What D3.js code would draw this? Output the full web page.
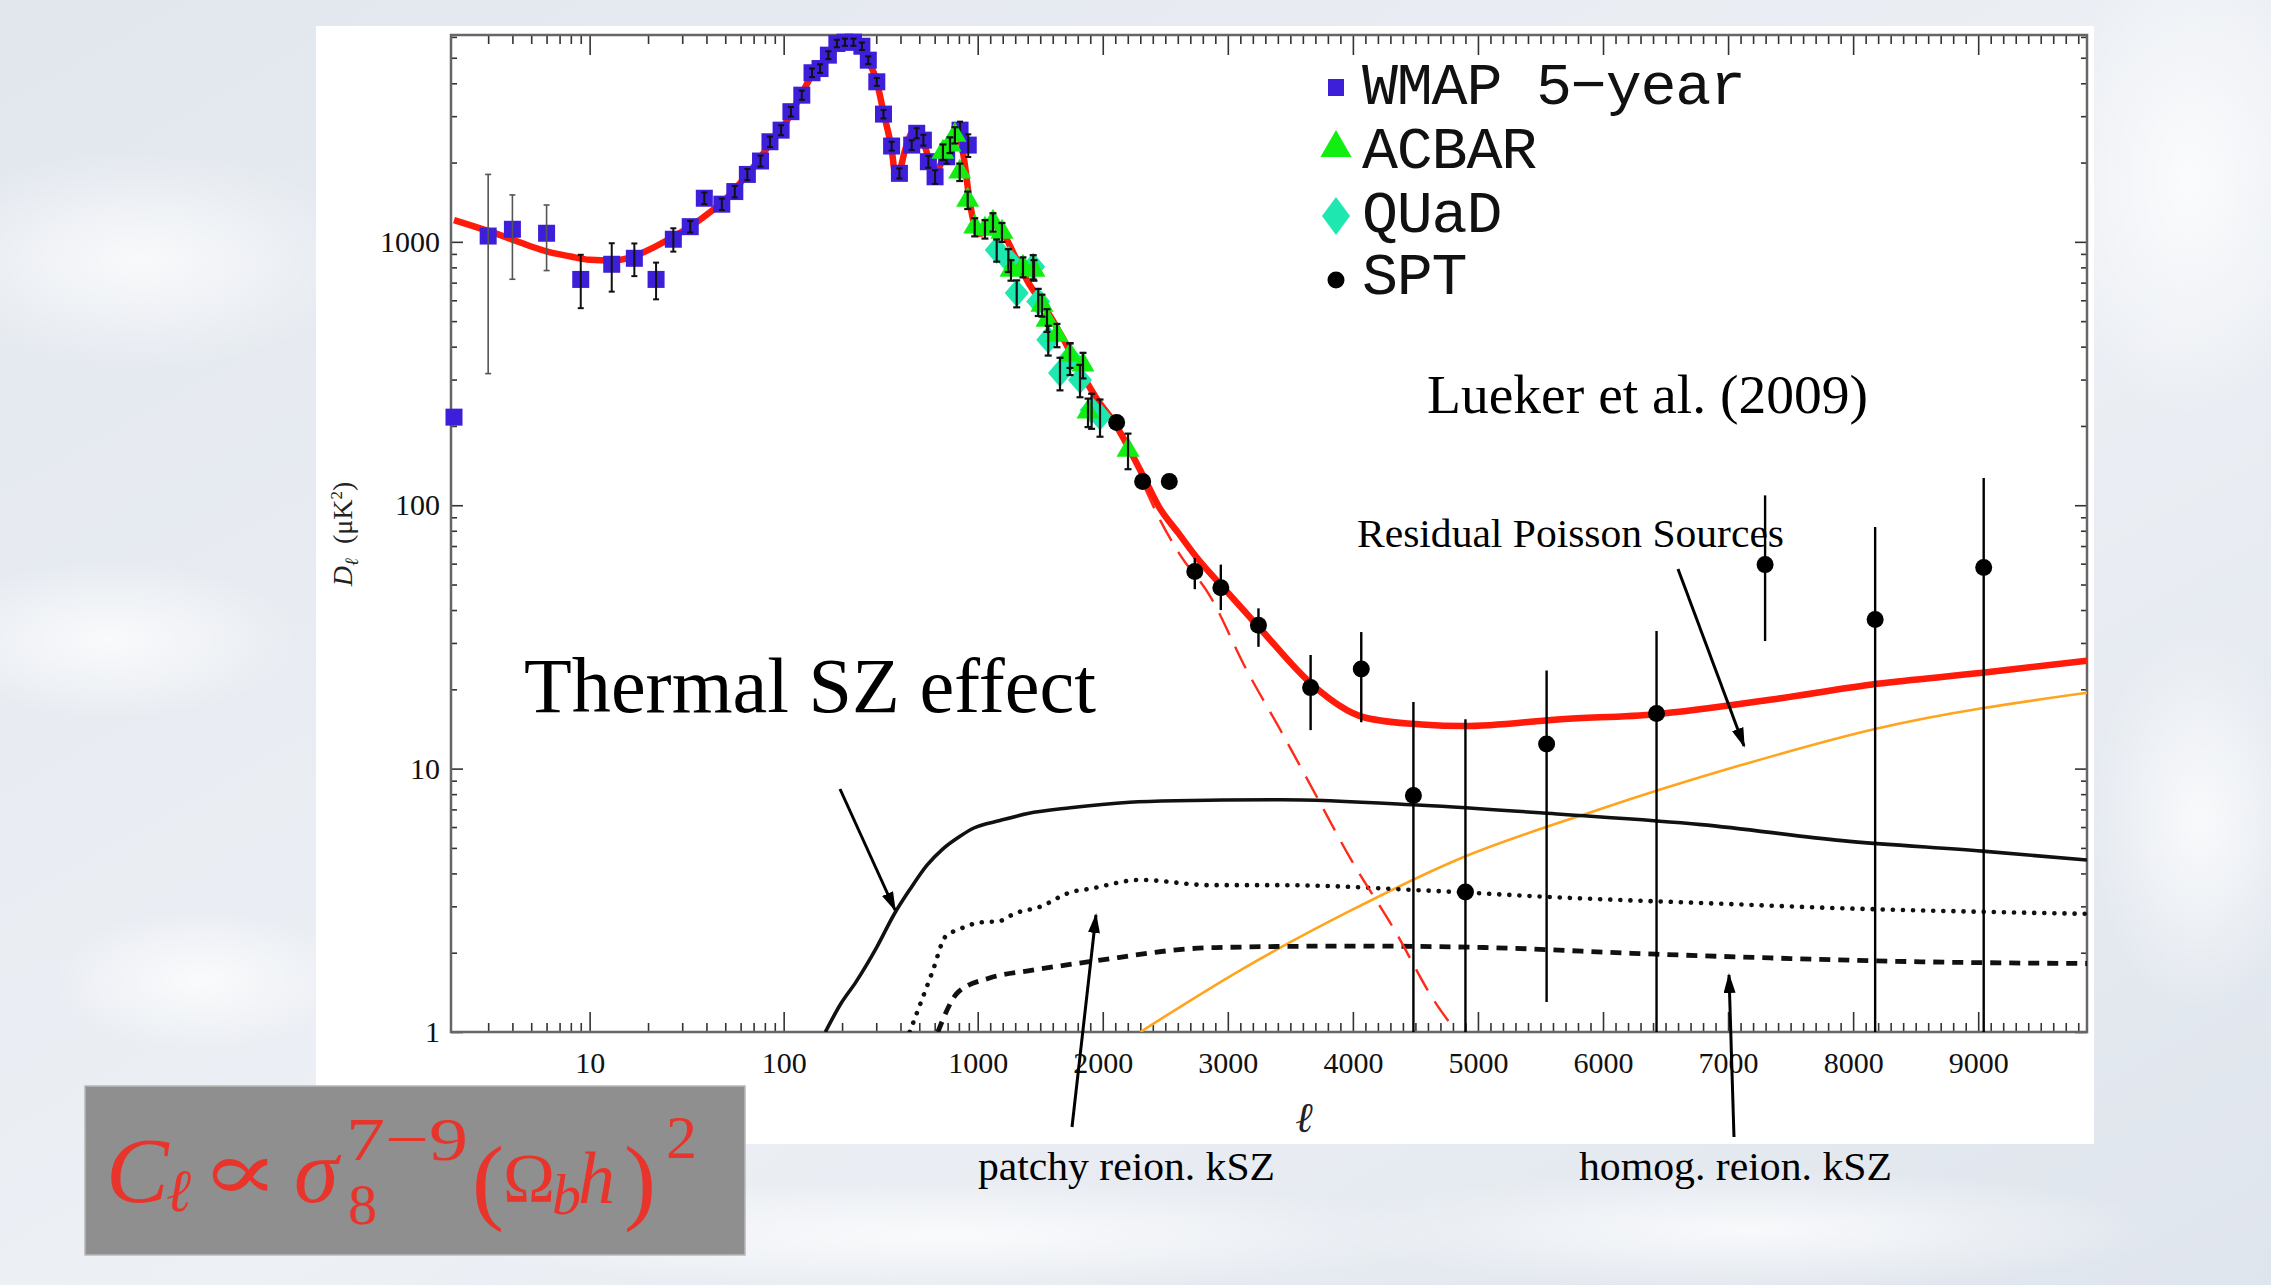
<!DOCTYPE html>
<html>
<head>
<meta charset="utf-8">
<script src="https://cdn.jsdelivr.net/npm/d3@7"></script>
<style>
  body { margin: 0; background: #e6ebf1; }
  svg { display: block; }
</style>
</head>
<body>
<svg id="chart" width="2271" height="1285"></svg>
<script>
// ---- data (multipole l, D_l in uK^2) ----
const wmapL  = [2, 3, 4, 6, 9, 13, 17, 22, 27, 33, 39, 48, 56, 65, 76, 85, 97, 109, 124, 140, 154, 170, 188, 207, 229, 253, 273, 302, 327, 360, 395, 457, 485, 525, 557, 603, 692, 811, 894];
const wmapD  = [216, 1052, 1116, 1078, 720, 822, 866, 720, 1023, 1142, 1464, 1390, 1552, 1803, 2027, 2399, 2655, 3120, 3605, 4385, 4550, 5115, 5665, 5730, 5730, 5530, 4895, 4052, 3055, 2311, 1820, 2330, 2583, 2433, 2015, 1766, 2104, 2655, 2330];
const wmapLo = [216, 316, 721, 778, 560, 647, 741, 605, 918, 1085, 1390, 1320, 1475, 1715, 1930, 2290, 2540, 2990, 3460, 4220, 4380, 4940, 5480, 5550, 5550, 5350, 4730, 3910, 2940, 2220, 1740, 2230, 2470, 2320, 1910, 1660, 1980, 2450, 2100];
const wmapHi = [216, 1803, 1507, 1380, 893, 988, 986, 834, 1126, 1200, 1540, 1460, 1630, 1890, 2125, 2510, 2770, 3250, 3750, 4550, 4720, 5290, 5850, 5910, 5910, 5710, 5060, 4190, 3170, 2400, 1900, 2430, 2700, 2550, 2120, 1870, 2230, 2860, 2560];

const acbarL   = [662, 720, 763, 808, 888, 965, 1058, 1122, 1194, 1266, 1362, 1450, 1514, 1554, 1634, 1738, 1842, 1882, 2202];
const acbarD   = [2193, 2333, 2544, 1842, 1442, 1139, 1119, 1189, 1089, 782, 803, 782, 575, 505, 443, 372, 341, 226, 162];
const acbarErr = [150, 160, 180, 140, 110, 90, 90, 95, 90, 70, 70, 70, 55, 50, 45, 40, 38, 28, 25];

const quadL   = [1152, 1245, 1312, 1444, 1484, 1564, 1658, 1738, 1818, 1911, 1978];
const quadD   = [931, 853, 639, 805, 593, 425, 318, 362, 299, 230, 217];
const quadErr = [90, 85, 75, 85, 70, 55, 45, 50, 42, 35, 35];

const sptL  = [2111, 2319, 2532, 2736, 2944, 3245, 3662, 4067, 4484, 4900, 5549, 6428, 7296, 8176, 9044];
const sptD  = [206, 123, 123, 56, 48.6, 35, 20.3, 23.9, 7.9, 3.4, 12.4, 16.2, 59.5, 36.8, 58];
const sptLo = [195, 115, 116, 48, 40, 29, 14, 15, 0.5, 0.5, 1.3, 0.5, 30.5, 0.5, 0.5];
const sptHi = [218, 131, 130, 63, 59.5, 40.6, 27, 33, 17.9, 15.4, 23.6, 33.3, 109, 82.7, 127];

// total model (red), CMB only (red dashed)
const totalL = [2, 3, 4, 5, 6, 8, 10, 13, 16, 20, 26, 34, 42, 50, 60, 70, 85, 100, 124, 140, 155, 170, 188, 207, 229, 253, 273, 302, 327, 360, 377, 395, 420, 466, 500, 540, 570, 603, 640, 690, 740, 782, 820, 860, 900, 950, 1000, 1060, 1127, 1197, 1289, 1405, 1521, 1671, 1810, 1949, 2100, 2331, 2447, 2608, 2748, 2973, 3254, 3682, 4101, 4553, 4890, 5664, 6427, 7352, 8192, 9034, 9870];
const totalD = [1210, 1100, 1020, 960, 920, 880, 855, 850, 870, 930, 1030, 1160, 1300, 1450, 1680, 1930, 2350, 2750, 3650, 4300, 4650, 5100, 5550, 5730, 5730, 5500, 4900, 4050, 3100, 2250, 1800, 1850, 2200, 2620, 2550, 2250, 1950, 1800, 1950, 2250, 2550, 2650, 2400, 1950, 1500, 1200, 1070, 1090, 1150, 1090, 900, 700, 580, 440, 330, 255, 203, 127, 99, 78, 63.6, 48.1, 34.2, 20.7, 15.6, 14.7, 14.5, 15.4, 16.1, 18.3, 21.0, 23.1, 25.7];
const cmbL = [2331, 2447, 2608, 2860, 3140, 3428, 3708, 3988, 4324, 4661, 4830];
const cmbD = [118, 90, 66, 45, 24.2, 13.8, 7.87, 4.49, 2.48, 1.29, 1.0];

// secondary anisotropies
const tszL = [164, 197, 236, 302, 371, 450, 548, 660, 800, 956, 1178, 1400, 1740, 2215, 2581, 3428, 4553, 5664, 6785, 7912, 9034, 9870];
const tszD = [1.0, 1.28, 1.55, 2.1, 2.8, 3.5, 4.3, 4.95, 5.5, 5.95, 6.35, 6.75, 7.1, 7.45, 7.55, 7.62, 7.26, 6.71, 6.13, 5.33, 4.86, 4.5];
const patchyL = [446, 587, 681, 800, 1007, 1178, 1290, 1500, 1740, 1900, 2300, 2860, 3428, 4553, 5664, 6785, 7912, 9034, 9870];
const patchyD = [1.0, 1.71, 2.30, 2.45, 2.60, 2.64, 2.81, 2.99, 3.39, 3.5, 3.78, 3.61, 3.61, 3.45, 3.24, 3.09, 2.95, 2.86, 2.81];
const homogL = [623, 795, 1089, 1415, 1900, 2860, 3988, 5110, 6230, 7352, 8475, 9870];
const homogD = [1.0, 1.42, 1.60, 1.71, 1.85, 2.09, 2.12, 2.09, 1.99, 1.91, 1.85, 1.82];
const poissonL = [2300, 3140, 3988, 4830, 5950, 7071, 8192, 9870];
const poissonD = [1.0, 1.76, 2.90, 4.5, 6.95, 10.2, 14.2, 19.4];

// axis ticks
const yMajor = [1, 10, 100, 1000];
const xLogMajor = [10, 100, 1000];
const xLinMajor = [2000, 3000, 4000, 5000, 6000, 7000, 8000, 9000];
const legendNames = ['WMAP 5\u2212year', 'ACBAR', 'QUaD', 'SPT'];

// ---- layout ----
const serif = "'Liberation Serif', 'Times New Roman', serif";
const mono = "'Liberation Mono', 'DejaVu Sans Mono', monospace";
const frame = { left: 451, right: 2087, top: 35, bottom: 1032 };

const svg = d3.select('#chart');
const defs = svg.append('defs');

// piecewise x: log below l=1000, linear above
const xLog = d3.scaleLog().domain([1.93, 1000]).range([frame.left, 977.7]);
const xLin = d3.scaleLinear().domain([1000, 9870]).range([977.7, frame.right]);
const x = l => l <= 1000 ? xLog(l) : xLin(l);
const y = d3.scaleLog().domain([1, 6100]).range([frame.bottom, frame.top]).clamp(true);

// ---- background ----
const bg = defs.append('linearGradient').attr('id', 'bg')
    .attr('x1', 0).attr('y1', 0).attr('x2', 1).attr('y2', 1);
bg.append('stop').attr('offset', '0%').attr('stop-color', '#e2e7ee');
bg.append('stop').attr('offset', '55%').attr('stop-color', '#edf0f5');
bg.append('stop').attr('offset', '100%').attr('stop-color', '#dfe5ed');
svg.append('rect').attr('width', 2271).attr('height', 1285).attr('fill', 'url(#bg)');

const cloud = defs.append('radialGradient').attr('id', 'cloud');
cloud.append('stop').attr('offset', '0%').attr('stop-color', '#ffffff').attr('stop-opacity', 0.75);
cloud.append('stop').attr('offset', '100%').attr('stop-color', '#ffffff').attr('stop-opacity', 0);
[[140, 260, 230, 110], [110, 640, 190, 80], [2190, 180, 140, 240], [2200, 820, 110, 190],
 [950, 1235, 520, 55], [1750, 1230, 420, 60], [200, 980, 150, 70]].forEach(c => {
    svg.append('ellipse').attr('cx', c[0]).attr('cy', c[1]).attr('rx', c[2]).attr('ry', c[3])
        .attr('fill', 'url(#cloud)');
});

// white figure panel
svg.append('rect').attr('x', 316).attr('y', 26).attr('width', 1778).attr('height', 1118).attr('fill', '#ffffff');

// ---- axes ----
var _axis = (axis, tx, ty) => {
    let g = svg.append('g').attr('transform', 'translate(' + tx + ',' + ty + ')').call(axis.tickSizeOuter(0));
    g.select('.domain').remove();
    g.selectAll('.tick line').attr('stroke', '#333').attr('stroke-width', 1.6);
    g.attr('font-family', serif).attr('font-size', 30);
    g.selectAll('.tick text').attr('fill', '#111');
    return g;
};

const xLogMinor = [3, 4, 5, 6, 7, 8, 9, 20, 30, 40, 50, 60, 70, 80, 90, 200, 300, 400, 500, 600, 700, 800, 900];
const xLinMinor = d3.range(1100, 9870, 100).filter(v => v % 1000 !== 0);
const yMinor = [];
[1, 10, 100, 1000].forEach(d => [2, 3, 4, 5, 6, 7, 8, 9].forEach(m => { if (d * m < 6100) yMinor.push(d * m); }));

// bottom
_axis(d3.axisBottom(xLog).tickValues(xLogMajor).tickFormat(d3.format('d')).tickSize(-20).tickPadding(20), 0, frame.bottom);
_axis(d3.axisBottom(xLin).tickValues(xLinMajor).tickFormat(d3.format('d')).tickSize(-20).tickPadding(20), 0, frame.bottom);
_axis(d3.axisBottom(xLog).tickValues(xLogMinor).tickFormat('').tickSize(-9), 0, frame.bottom);
_axis(d3.axisBottom(xLin).tickValues(xLinMinor).tickFormat('').tickSize(-9), 0, frame.bottom);
// top
_axis(d3.axisTop(xLog).tickValues(xLogMajor).tickFormat('').tickSize(-20), 0, frame.top);
_axis(d3.axisTop(xLin).tickValues(xLinMajor).tickFormat('').tickSize(-20), 0, frame.top);
_axis(d3.axisTop(xLog).tickValues(xLogMinor).tickFormat('').tickSize(-9), 0, frame.top);
_axis(d3.axisTop(xLin).tickValues(xLinMinor).tickFormat('').tickSize(-9), 0, frame.top);
// left / right
_axis(d3.axisLeft(y).tickValues(yMajor).tickFormat(d3.format('d')).tickSize(-12).tickPadding(11), frame.left, 0);
_axis(d3.axisLeft(y).tickValues(yMinor).tickFormat('').tickSize(-6), frame.left, 0);
_axis(d3.axisRight(y).tickValues(yMajor).tickFormat('').tickSize(-12), frame.right, 0);
_axis(d3.axisRight(y).tickValues(yMinor).tickFormat('').tickSize(-6), frame.right, 0);

svg.append('rect')
    .attr('x', frame.left).attr('y', frame.top)
    .attr('width', frame.right - frame.left).attr('height', frame.bottom - frame.top)
    .attr('fill', 'none').attr('stroke', '#666').attr('stroke-width', 2.5);

// axis titles
const yTitle = svg.append('text').attr('transform', 'translate(352,534) rotate(-90)')
    .attr('text-anchor', 'middle').attr('font-family', serif).attr('font-size', 28).attr('fill', '#222');
yTitle.append('tspan').attr('font-style', 'italic').text('D');
yTitle.append('tspan').attr('font-style', 'italic').attr('font-size', 19).attr('dy', 6).text('\u2113');
yTitle.append('tspan').attr('dy', -6).text('\u2002(\u03bcK');
yTitle.append('tspan').attr('font-size', 17).attr('dy', -10).text('2');
yTitle.append('tspan').attr('dy', 10).text(')');

svg.append('text').attr('x', 1304).attr('y', 1132).attr('text-anchor', 'middle')
    .attr('font-family', serif).attr('font-style', 'italic').attr('font-size', 42).attr('fill', '#222')
    .text('\u2113');

// ---- model curves ----
defs.append('clipPath').attr('id', 'plotClip').append('rect')
    .attr('x', frame.left).attr('y', frame.top)
    .attr('width', frame.right - frame.left).attr('height', frame.bottom - frame.top);
const curves = svg.append('g').attr('clip-path', 'url(#plotClip)');
const line = d3.line().x(d => x(d[0])).y(d => y(d[1])).curve(d3.curveMonotoneX);

var _curve = (ls, ds, stroke, width, dash, cap) => {
    curves.append('path').datum(d3.zip(ls, ds))
        .attr('d', line).attr('fill', 'none')
        .attr('stroke', stroke).attr('stroke-width', width)
        .attr('stroke-dasharray', dash || null)
        .attr('stroke-linecap', cap || 'butt')
        .attr('stroke-linejoin', 'round');
};
_curve(poissonL, poissonD, '#ffa41c', 2.6);
_curve(tszL, tszD, '#111', 3.6);
_curve(patchyL, patchyD, '#111', 4.6, '0.1,10', 'round');
_curve(homogL, homogD, '#111', 4.8, '11,8');
_curve(cmbL, cmbD, '#ff2a1a', 2.4, '24,13');
_curve(totalL, totalD, '#ff1a0a', 6.5);

// ---- data points ----
const pts = svg.append('g');
var _errbar = (l, lo, hi, cap, color, width) => {
    let g = pts.append('g').attr('stroke', color).attr('stroke-width', width);
    g.append('line').attr('x1', x(l)).attr('x2', x(l)).attr('y1', y(lo)).attr('y2', y(hi));
    if (cap) {
        g.append('line').attr('x1', x(l) - cap).attr('x2', x(l) + cap).attr('y1', y(lo)).attr('y2', y(lo));
        g.append('line').attr('x1', x(l) - cap).attr('x2', x(l) + cap).attr('y1', y(hi)).attr('y2', y(hi));
    }
};

// WMAP squares
const sq = 17;
pts.selectAll('rect.wmap').data(d3.range(wmapL.length)).enter().append('rect')
    .attr('class', 'wmap')
    .attr('x', i => x(wmapL[i]) - sq / 2).attr('y', i => y(wmapD[i]) - sq / 2)
    .attr('width', sq).attr('height', sq).attr('fill', '#3d1fd9');
wmapL.forEach((l, i) => {
    if (wmapHi[i] > wmapLo[i]) _errbar(l, wmapLo[i], wmapHi[i], 3, i < 4 ? '#555' : '#111', i < 4 ? 1.6 : 2);
});

// QUaD diamonds
const diamond = (cx, cy, w, h) => 'M' + cx + ',' + (cy - h) + 'L' + (cx + w) + ',' + cy + 'L' + cx + ',' + (cy + h) + 'L' + (cx - w) + ',' + cy + 'Z';
quadL.forEach((l, i) => {
    pts.append('path').attr('d', diamond(x(l), y(quadD[i]), 12, 14)).attr('fill', '#1ee8b0');
});
// ACBAR triangles
const tri = d3.symbol().type(d3.symbolTriangle).size(230);
acbarL.forEach((l, i) => {
    pts.append('path').attr('d', tri).attr('transform', 'translate(' + x(l) + ',' + y(acbarD[i]) + ')').attr('fill', '#12ee12');
});
quadL.forEach((l, i) => _errbar(l, quadD[i] - quadErr[i], quadD[i] + quadErr[i], 3.5, '#111', 2.2));
acbarL.forEach((l, i) => _errbar(l, acbarD[i] - acbarErr[i], acbarD[i] + acbarErr[i], 3.5, '#111', 2.2));

// SPT
sptL.forEach((l, i) => _errbar(l, sptLo[i], sptHi[i], 0, '#000', 2.4));
pts.selectAll('circle.spt').data(d3.range(sptL.length)).enter().append('circle')
    .attr('class', 'spt')
    .attr('cx', i => x(sptL[i])).attr('cy', i => y(sptD[i])).attr('r', 8.5).attr('fill', '#000');

// ---- legend ----
const legend = svg.append('g').attr('font-family', mono).attr('font-size', 60).attr('fill', '#111');
const legRow = [104, 168, 232, 294];
legend.append('rect').attr('x', 1328).attr('y', legRow[0] - 25).attr('width', 16).attr('height', 17).attr('fill', '#3d1fd9');
legend.append('path').attr('d', d3.symbol().type(d3.symbolTriangle).size(420)).attr('transform', 'translate(1336,' + (legRow[1] - 20) + ')').attr('fill', '#12ee12');
legend.append('path').attr('d', diamond(1336, legRow[2] - 16, 14, 19)).attr('fill', '#1ee8b0');
legend.append('circle').attr('cx', 1336).attr('cy', legRow[3] - 14).attr('r', 8.5).attr('fill', '#000');
legendNames.forEach((n, i) => {
    legend.append('text').attr('x', 1362).attr('y', legRow[i]).attr('letter-spacing', -1.2).text(n);
});

// ---- annotations ----
var _label = (t, xx, yy, size, len) => {
    let el = svg.append('text').attr('x', xx).attr('y', yy)
        .attr('font-family', serif).attr('font-size', size).attr('fill', '#000').text(t);
    if (len) el.attr('textLength', len).attr('lengthAdjust', 'spacingAndGlyphs');
    return el;
};
_label('Lueker et al. (2009)', 1427, 413, 55, 441);
_label('Thermal SZ effect', 524, 712, 78, 572);
_label('Residual Poisson Sources', 1357, 547, 41, 427);
_label('patchy reion. kSZ', 978, 1180, 41, 297);
_label('homog. reion. kSZ', 1579, 1180, 41, 313);

defs.append('marker').attr('id', 'head')
    .attr('viewBox', '0 0 20 12').attr('refX', 18).attr('refY', 6)
    .attr('markerWidth', 20).attr('markerHeight', 12)
    .attr('markerUnits', 'userSpaceOnUse').attr('orient', 'auto')
    .append('path').attr('d', 'M0,0L20,6L0,12Z').attr('fill', '#000');
[[840, 789, 895, 910], [1072, 1127, 1096, 915], [1734, 1137, 1729, 975], [1678, 569, 1744, 746]].forEach(a => {
    svg.append('line').attr('x1', a[0]).attr('y1', a[1]).attr('x2', a[2]).attr('y2', a[3])
        .attr('stroke', '#000').attr('stroke-width', 3).attr('marker-end', 'url(#head)');
});

// ---- formula box ----
svg.append('rect').attr('x', 85).attr('y', 1086).attr('width', 660).attr('height', 169)
    .attr('fill', '#8f8f8f').attr('stroke', '#b8b8b8').attr('stroke-width', 1.5);
const formula = svg.append('g').attr('fill', '#e8342a').attr('font-family', serif);
var _fpart = (t, xx, yy, size, italic, len, fam) => {
    let el = formula.append('text').attr('x', xx).attr('y', yy).attr('font-size', size)
        .attr('font-style', italic ? 'italic' : 'normal').text(t);
    if (len) el.attr('textLength', len).attr('lengthAdjust', 'spacingAndGlyphs');
    if (fam) el.attr('font-family', fam);
};
_fpart('C', 106, 1202, 94, true);
_fpart('\u2113', 166, 1211, 60, true);
_fpart('\u221d', 200, 1200, 84, false, 80, "'DejaVu Serif', serif");
_fpart('\u03c3', 294, 1202, 90, true);
_fpart('7\u22129', 346, 1160, 62, false, 122);
_fpart('8', 348, 1224, 58, false);
_fpart('(', 472, 1212, 96, false);
_fpart('\u03a9', 503, 1202, 70, false);
_fpart('b', 552, 1214, 58, true);
_fpart('h', 578, 1203, 74, true);
_fpart(')', 624, 1212, 96, false);
_fpart('2', 666, 1158, 62, false);
</script>
</body>
</html>
